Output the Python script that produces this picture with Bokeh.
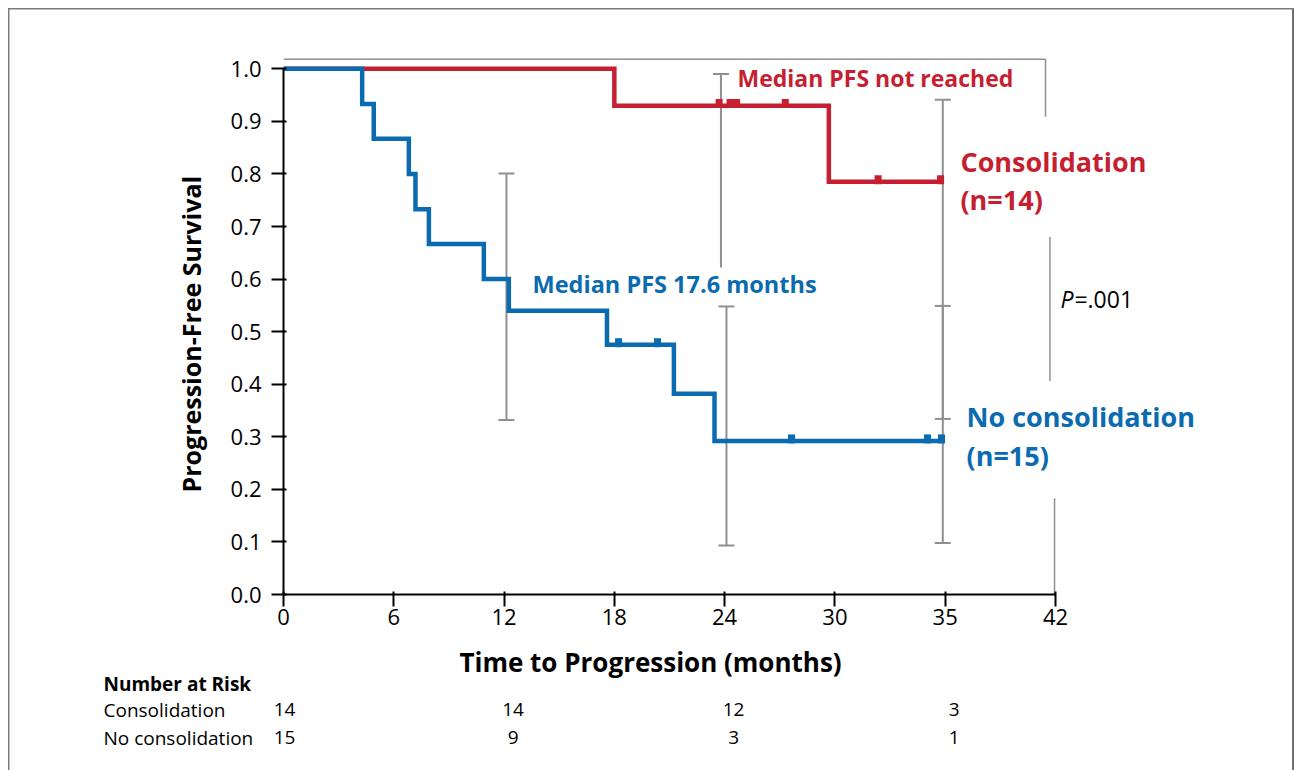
import math
from bokeh.plotting import figure
from bokeh.layouts import column, row
from bokeh.models import (Range1d, FixedTicker, PrintfTickFormatter, Label,
                          ColumnDataSource, Whisker, TeeHead)
from bokeh.core.properties import value
from bokeh.embed import file_html
from bokeh.resources import INLINE

# ---------------- data ----------------
cons_times = [0, 18.0, 29.67, 35.9]
cons_surv = [1.0, 0.93, 0.785, 0.785]
cons_censor = [23.7, 24.3, 24.65, 27.3, 32.35, 35.75]

nocons_times = [0, 4.28, 4.91, 6.82, 7.18, 7.91, 10.9, 12.26, 17.6, 21.24, 23.45, 35.95]
nocons_surv = [1.0, 0.933, 0.867, 0.80, 0.733, 0.667, 0.60, 0.54, 0.475, 0.382, 0.292, 0.292]
nocons_censor = [18.23, 20.35, 27.64, 35.04, 35.8]

# confidence intervals
cons_ci_t = [23.8, 35.87]
cons_ci_lo = [0.622, 0.334]
cons_ci_hi = [0.990, 0.941]
nocons_ci_t = [12.13, 24.1, 35.87]
nocons_ci_lo = [0.332, 0.093, 0.098]
nocons_ci_hi = [0.801, 0.548, 0.549]

# number at risk
risk_times = [0, 12, 24, 36]
cons_risk = [14, 14, 12, 3]
nocons_risk = [15, 9, 3, 1]
risk_rows = ["Consolidation", "No consolidation"]

x_ticks = [0, 6, 12, 18, 24, 30, 36, 42]
x_tick_labels = {36: "35"}
y_ticks = [0.0, 0.1, 0.2, 0.3, 0.4, 0.5, 0.6, 0.7, 0.8, 0.9, 1.0]

RED = "#c61f32"
BLUE = "#0b6bb1"
GRAY = "#909090"
FONT = "Open Sans"

PX_PER_MONTH = 18.38
FRAME_LEFT = 283
LEFT_W = 213
TOP_H = 640
FRAME_BOTTOM = 594
Y_END = 1.13


def surv_at(times, surv, t):
    s = surv[0]
    for ti, si in zip(times, surv):
        if ti <= t:
            s = si
    return s


def bare(fig):
    fig.grid.visible = False
    fig.outline_line_color = None
    fig.background_fill_color = None
    fig.border_fill_color = None


# ---------------- main plot ----------------
x_end = (1294 - FRAME_LEFT) / PX_PER_MONTH
p = figure(width=1294 - LEFT_W, height=TOP_H, output_backend="svg", toolbar_location=None,
           x_range=Range1d(0, x_end), y_range=Range1d(0, Y_END),
           min_border_left=FRAME_LEFT - LEFT_W, min_border_right=0, min_border_top=0,
           min_border_bottom=TOP_H - FRAME_BOTTOM)
p.grid.visible = False
p.outline_line_color = None
p.background_fill_color = None
p.border_fill_color = None

for ax in (p.xaxis[0], p.yaxis[0]):
    ax.axis_line_width = 2
    ax.axis_line_color = "black"
    ax.major_tick_line_width = 2
    ax.major_tick_line_color = "black"
    ax.minor_tick_line_color = None
    ax.major_tick_out = 12
    ax.major_tick_in = 3
    ax.major_label_text_font = FONT
    ax.major_label_text_font_size = "22px"
    ax.major_label_text_color = "black"

p.xaxis.bounds = (0, 42)
p.xaxis.ticker = FixedTicker(ticks=x_ticks)
p.xaxis.major_label_overrides = x_tick_labels
p.xaxis.major_label_standoff = 2
p.yaxis.bounds = (0, 1)
p.yaxis.ticker = FixedTicker(ticks=y_ticks)
p.yaxis.formatter = PrintfTickFormatter(format="%.1f")
p.yaxis.major_label_standoff = 10

# decorative partial frame
p.segment(x0=[0, 41.46, 41.7, 41.95], y0=[1.018, 1.018, 0.68, 0.183],
          x1=[41.46, 41.46, 41.7, 41.95], y1=[1.018, 0.909, 0.406, 0.0],
          line_color=GRAY, line_width=1.5)


def whisker(ts, lo, hi, lower_head=True):
    src = ColumnDataSource(dict(base=ts, lower=lo, upper=hi))
    w = Whisker(source=src, base="base", lower="lower", upper="upper", dimension="height",
                line_color=GRAY, line_width=2,
                upper_head=TeeHead(size=16, line_color=GRAY, line_width=2),
                lower_head=TeeHead(size=16, line_color=GRAY, line_width=2) if lower_head else None)
    p.add_layout(w)


whisker(cons_ci_t[:1], cons_ci_lo[:1], cons_ci_hi[:1], lower_head=False)
whisker(cons_ci_t[1:], cons_ci_lo[1:], cons_ci_hi[1:])
whisker(nocons_ci_t, nocons_ci_lo, nocons_ci_hi)

# KM curves
p.step(cons_times, cons_surv, mode="after", line_color=RED, line_width=4.5, line_join="miter")
p.step(nocons_times, nocons_surv, mode="after", line_color=BLUE, line_width=4.5, line_join="miter")

# censor marks
p.rect(x=cons_censor, y=[surv_at(cons_times, cons_surv, t) + 0.004 for t in cons_censor],
       width=7, height=9, width_units="screen", height_units="screen",
       fill_color=RED, line_color=None)
p.rect(x=nocons_censor, y=[surv_at(nocons_times, nocons_surv, t) + 0.004 for t in nocons_censor],
       width=7, height=9, width_units="screen", height_units="screen",
       fill_color=BLUE, line_color=None)


def lab(x, y, text, size, color="black", style="normal", x_offset=0):
    p.add_layout(Label(x=x, y=y, text=text, text_font=FONT, text_font_size=size,
                       text_color=color, text_font_style=style, text_align="left",
                       text_baseline="middle", x_offset=x_offset))


lab(24.7, 0.983, "Median PFS not reached", "23px", RED, "bold")
lab(13.55, 0.591, "Median PFS 17.6 months", "23.5px", BLUE, "bold")
lab(36.83, 0.823, "Consolidation", "27px", RED, "bold")
lab(36.83, 0.751, "(n=14)", "27px", RED, "bold")
lab(37.16, 0.338, "No consolidation", "27px", BLUE, "bold")
lab(37.16, 0.264, "(n=15)", "27px", BLUE, "bold")
lab(42.27, 0.5625, "P", "23px", "black", "italic")
lab(42.27, 0.5625, "=.001", "23px", "black", "normal", x_offset=14)

# ---------------- left strip: y-axis title (shares the main y scale) ----------------
lf = figure(width=LEFT_W, height=TOP_H, output_backend="svg", toolbar_location=None,
            x_range=Range1d(0, LEFT_W), y_range=p.y_range,
            x_axis_location=None, y_axis_location=None, min_border=0,
            min_border_bottom=TOP_H - FRAME_BOTTOM)
bare(lf)
lf.text(x=[190], y=[0.194], text=["Progression-Free Survival"], angle=math.pi / 2,
        text_font=value(FONT), text_font_size="25px", text_font_style="bold",
        text_color="black", text_align="left", text_baseline="middle")

# ---------------- bottom strip: x title + number-at-risk table ----------------
tf = figure(width=1294, height=770 - TOP_H, output_backend="svg", toolbar_location=None,
            x_range=Range1d(-FRAME_LEFT / PX_PER_MONTH, x_end), y_range=Range1d(770, TOP_H),
            x_axis_location=None, y_axis_location=None, min_border=0)
bare(tf)
label_x = (103 - FRAME_LEFT) / PX_PER_MONTH
tf.text(x=[19.97], y=[661], text=["Time to Progression (months)"],
        text_font=value(FONT), text_font_size="26px", text_font_style="bold",
        text_color="black", text_align="center", text_baseline="middle")
tf.text(x=[label_x], y=[683], text=["Number at Risk"],
        text_font=value(FONT), text_font_size="19px", text_font_style="bold",
        text_color="black", text_align="left", text_baseline="middle")
tf.text(x=[label_x, label_x], y=[709, 737], text=risk_rows,
        text_font=value(FONT), text_font_size="19px",
        text_color="black", text_align="left", text_baseline="middle")
risk_src = ColumnDataSource(dict(
    x=risk_times + risk_times,
    y=[709] * len(risk_times) + [737] * len(risk_times),
    text=[str(v) for v in cons_risk] + [str(v) for v in nocons_risk],
    xoff=[1, 9, 9, 9] * 2,
))
tf.text(x="x", y="y", text="text", x_offset="xoff", source=risk_src,
        text_font=value(FONT), text_font_size="19px",
        text_color="black", text_align="center", text_baseline="middle")

border_css = {
    "background-color": "white",
    "background-image": ("linear-gradient(#7a7a7a,#7a7a7a), linear-gradient(#7a7a7a,#7a7a7a), "
                         "linear-gradient(#6e6e6e,#6e6e6e)"),
    "background-size": "1.5px 770px, 1286px 1.5px, 2px 770px",
    "background-position": "7.5px 8px, 8px 7.5px, 1292px 8px",
    "background-repeat": "no-repeat",
}
root = column(row(lf, p), tf, styles=border_css)

open("out.html", "w").write(file_html(root, INLINE))
